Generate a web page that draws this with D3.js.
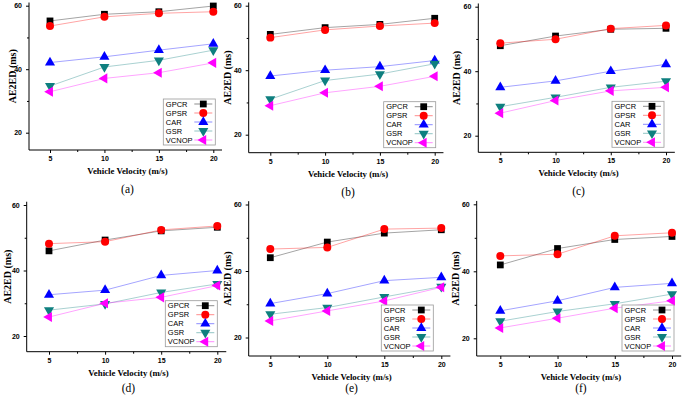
<!DOCTYPE html>
<html>
<head>
<meta charset="utf-8">
<script src="https://cdn.jsdelivr.net/npm/d3@7"></script>
<style>
  body { margin: 0; background: #fff; }
  .tick-label { font-family: "Liberation Sans", Arial, sans-serif; font-weight: 700; font-size: 7px; fill: #000; }
  .axis-title { font-family: "Liberation Serif", "Times New Roman", serif; font-weight: 700; fill: #000; }
  .caption { font-family: "Liberation Serif", "Times New Roman", serif; font-size: 11.5px; fill: #000; }
  .legend-text { font-family: "Liberation Sans", Arial, sans-serif; font-size: 7.5px; fill: #000; }
</style>
</head>
<body>
<div id="chart"></div>
<script>
const velocities = [5, 10, 15, 20];
const minorVelocities = [7.5, 12.5, 17.5];
const delayTicks = [20, 40, 60];
const minorDelayTicks = [30, 50];
const seriesNames = ["GPCR", "GPSR", "CAR", "GSR", "VCNOP"];
const panelLabels = ["(a)", "(b)", "(c)", "(d)", "(e)", "(f)"];

// (a)
const gpcrA = [55.2, 57.3, 58.1, 59.9];
const gpsrA = [53.6, 56.5, 57.6, 58.1];
const carA = [42.1, 43.9, 46.0, 48.0];
const gsrA = [34.7, 40.7, 42.8, 46.0];
const vcnopA = [32.9, 37.1, 38.9, 42.0];
// (b)
const gpcrB = [51.1, 53.2, 54.2, 56.1];
const gpsrB = [50.1, 52.5, 53.7, 54.6];
const carB = [38.2, 40.0, 41.1, 43.0];
const gsrB = [31.0, 36.8, 38.8, 42.0];
const vcnopB = [29.0, 33.0, 35.0, 38.1];
// (c)
const gpcrC = [47.9, 50.9, 53.0, 53.3];
const gpsrC = [48.7, 49.9, 53.2, 54.2];
const carC = [35.0, 37.0, 40.0, 42.1];
const gsrC = [29.0, 31.9, 35.0, 36.9];
const vcnopC = [27.0, 30.9, 33.9, 35.0];
// (d)
const gpcrD = [46.0, 49.3, 52.1, 53.2];
const gpsrD = [48.2, 48.8, 52.4, 53.6];
const carD = [32.6, 34.0, 38.5, 40.0];
const gsrD = [27.9, 29.8, 33.3, 35.9];
const vcnopD = [25.8, 30.0, 31.8, 35.4];
// (e)
const gpcrE = [44.0, 48.7, 51.4, 52.4];
const gpsrE = [46.6, 47.1, 52.6, 52.9];
const carE = [30.2, 33.2, 37.1, 38.1];
const gsrE = [27.0, 29.0, 32.2, 35.3];
const vcnopE = [25.0, 28.0, 31.0, 35.1];
// (f)
const gpcrF = [41.9, 46.8, 49.5, 50.4];
const gpsrF = [44.6, 45.1, 50.6, 51.5];
const carF = [28.2, 31.2, 35.2, 36.4];
const gsrF = [25.1, 28.0, 30.3, 33.2];
const vcnopF = [23.1, 26.0, 29.0, 31.2];

const panelValues = [
  [gpcrA, gpsrA, carA, gsrA, vcnopA],
  [gpcrB, gpsrB, carB, gsrB, vcnopB],
  [gpcrC, gpsrC, carC, gsrC, vcnopC],
  [gpcrD, gpsrD, carD, gsrD, vcnopD],
  [gpcrE, gpsrE, carE, gsrE, vcnopE],
  [gpcrF, gpsrF, carF, gsrF, vcnopF],
];

// pixel frame of each panel: y axis x, x(5), x(20), y(60), y(20), x axis y
const frames = [
  { axisX: 29, x5: 50, x20: 213.3, y60: 5.7, y20: 132.7, bottom: 150, titleX: 12, legendDx: 2 },
  { axisX: 248.7, x5: 270.3, x20: 434.7, y60: 5.7, y20: 134.7, bottom: 152.7, titleX: 227, legendDx: 1 },
  { axisX: 478.3, x5: 500.3, x20: 666, y60: 6.7, y20: 135.7, bottom: 152.3, titleX: 456, legendDx: -2 },
  { axisX: 26.7, x5: 49, x20: 217.3, y60: 205, y20: 336, bottom: 351.7, titleX: 7, legendDx: 0 },
  { axisX: 248.7, x5: 270.3, x20: 441.3, y60: 204.5, y20: 337.5, bottom: 356, titleX: 227, legendDx: -8 },
  { axisX: 476.7, x5: 500.3, x20: 672, y60: 204.3, y20: 338.3, bottom: 356, titleX: 455, legendDx: 2 },
];

const COLORS = { GPCR: "#000000", GPSR: "#ff0000", CAR: "#0000ff", GSR: "#0e7f7f", VCNOP: "#ff00ff" };
const SHAPES = {
  GPCR: { type: d3.symbolSquare, size: 46, rotate: 0 },
  GPSR: { type: d3.symbolCircle, size: 50, rotate: 0 },
  CAR: { type: d3.symbolTriangle, size: 44, rotate: 0 },
  GSR: { type: d3.symbolTriangle, size: 44, rotate: 180 },
  VCNOP: { type: d3.symbolTriangle, size: 44, rotate: -90 },
};

const svg = d3.select("#chart").append("svg").attr("width", 685).attr("height", 399);

function drawPanel(values, frame, label) {
  const x = d3.scaleLinear().domain([5, 20]).range([frame.x5, frame.x20]);
  const y = d3.scaleLinear().domain([20, 60]).range([frame.y20, frame.y60]);
  const g = svg.append("g");

  // axis lines
  g.append("line")
    .attr("x1", frame.axisX).attr("x2", frame.axisX)
    .attr("y1", frame.bottom).attr("y2", Math.max(0, y(61)))
    .attr("stroke", "#000").attr("stroke-width", 1);
  g.append("line")
    .attr("x1", frame.axisX).attr("x2", x(20.8))
    .attr("y1", frame.bottom).attr("y2", frame.bottom)
    .attr("stroke", "#000").attr("stroke-width", 1);

  g.append("g").attr("transform", `translate(0,${frame.bottom})`)
    .call(d3.axisBottom(x).tickValues(velocities).tickSize(3).tickSizeOuter(0).tickPadding(3));
  g.append("g").attr("transform", `translate(0,${frame.bottom})`)
    .call(d3.axisBottom(x).tickValues(minorVelocities).tickSize(2).tickFormat(""));
  g.append("g").attr("transform", `translate(${frame.axisX},0)`)
    .call(d3.axisLeft(y).tickValues(delayTicks).tickSize(3).tickSizeOuter(0).tickPadding(4));
  g.append("g").attr("transform", `translate(${frame.axisX},0)`)
    .call(d3.axisLeft(y).tickValues(minorDelayTicks).tickSize(2).tickFormat(""));
  g.selectAll(".domain").remove();
  g.selectAll(".tick line").attr("stroke", "#000");
  g.selectAll(".tick text").attr("class", "tick-label").attr("font-size", null).attr("font-family", null);

  // titles
  const midX = (frame.axisX + x(20.8)) / 2;
  g.append("text").attr("class", "axis-title")
    .attr("x", midX + 2).attr("y", frame.bottom + 24)
    .attr("text-anchor", "middle").attr("font-size", 8.8)
    .text("Vehicle Velocity (m/s)");
  g.append("text").attr("class", "caption")
    .attr("x", midX + 2).attr("y", Math.min(frame.bottom + 43, 392))
    .attr("text-anchor", "middle")
    .text(label);
  g.append("text").attr("class", "axis-title")
    .attr("transform", `translate(${frame.titleX},${(frame.bottom + y(61)) / 2}) rotate(-90)`)
    .attr("text-anchor", "middle").attr("dy", "0.35em").attr("font-size", 10)
    .text("AE2ED (ms)");

  // series
  const line = d3.line().x((d) => x(d[0])).y((d) => y(d[1]));
  seriesNames.forEach((name, i) => {
    const pts = velocities.map((v, j) => [v, values[i][j]]);
    g.append("path")
      .attr("d", line(pts))
      .attr("fill", "none")
      .attr("stroke", COLORS[name])
      .attr("stroke-opacity", 0.4)
      .attr("stroke-width", 0.9);
  });
  seriesNames.forEach((name, i) => {
    const shape = SHAPES[name];
    g.append("g").selectAll("path")
      .data(velocities.map((v, j) => [v, values[i][j]]))
      .join("path")
      .attr("transform", (d) => `translate(${x(d[0])},${y(d[1])}) rotate(${shape.rotate})`)
      .attr("d", d3.symbol().type(shape.type).size(shape.size))
      .attr("fill", COLORS[name]);
  });

  // legend
  const boxW = 52;
  const boxH = 46;
  const right = frame.x20 + frame.legendDx;
  const top = frame.bottom - 51;
  const legend = g.append("g").attr("transform", `translate(${right - boxW},${top})`);
  legend.append("rect").attr("width", boxW).attr("height", boxH)
    .attr("fill", "#fff").attr("stroke", "#9a9a9a").attr("stroke-width", 0.8);
  seriesNames.forEach((name, i) => {
    const row = legend.append("g").attr("transform", `translate(0,${5 + i * 9})`);
    row.append("text").attr("class", "legend-text").attr("x", 2.5).attr("dy", "0.35em").text(name);
    row.append("line").attr("x1", 31).attr("x2", 49).attr("stroke", COLORS[name])
      .attr("stroke-opacity", 0.5).attr("stroke-width", 0.9);
    const shape = SHAPES[name];
    row.append("path")
      .attr("transform", `translate(40,0) rotate(${shape.rotate})`)
      .attr("d", d3.symbol().type(shape.type).size(shape.size))
      .attr("fill", COLORS[name]);
  });
}

panelValues.forEach((values, i) => drawPanel(values, frames[i], panelLabels[i]));
</script>
</body>
</html>
